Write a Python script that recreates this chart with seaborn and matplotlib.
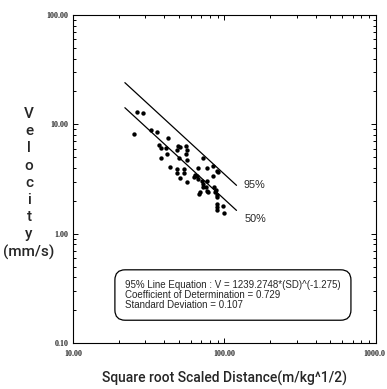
import numpy as np
import pandas as pd
import matplotlib
matplotlib.use("Agg")
import matplotlib.pyplot as plt
from matplotlib.transforms import ScaledTranslation
from matplotlib.ticker import FixedLocator, FixedFormatter, LogLocator, NullFormatter
import seaborn as sns

# Measured peak particle velocity against square-root scaled distance
sd = [26.6, 29.1, 25.3, 32.7, 35.7, 42.6, 37.1, 38.1, 41.9, 41.1, 37.9, 49.1,
      50.8, 48.4, 55.7, 56.3, 55.7, 50.3, 56.8, 43.7, 48.4, 48.4, 54.3, 54.3,
      50.8, 56.8, 63.2, 64.2, 65.5, 67.1, 67.1, 71.8, 76.3, 84.4, 89.6, 91.0,
      84.4, 70.7, 72.5, 76.3, 75.5, 76.3, 68.9, 68.2, 85.6, 87.9, 86.6, 88.8,
      89.6, 88.8, 88.8, 88.8, 98.2, 99.2, 71.8, 78.2]
v = [12.96, 12.8, 8.09, 8.81, 8.50, 7.49, 6.42, 6.11, 5.38, 6.02, 4.91, 6.28,
     6.19, 5.77, 6.28, 5.86, 5.38, 4.95, 4.75, 4.06, 3.87, 3.61, 3.87, 3.61,
     3.24, 2.95, 3.29, 3.46, 3.40, 3.18, 4.01, 4.95, 4.01, 4.12, 3.78, 3.65,
     3.40, 3.02, 2.86, 3.06, 2.66, 2.48, 2.39, 2.31, 2.66, 2.52, 2.39, 2.15,
     2.28, 1.87, 1.74, 1.65, 1.78, 1.55, 2.66, 2.39]

# Attenuation law V = K * SD^b
k95 = 1239.2748
k50 = 731.0
b = -1.275
r2 = 0.729
sdev = 0.107
line_sd = [22.0, 120.0]
line_labels = ["95%", "50%"]

x_ticks = [10, 100, 1000]
x_tick_labels = ["10.00", "100.00", "1000.0"]
y_ticks = [0.1, 1, 10, 100]
y_tick_labels = ["0.10", "1.00", "10.00", "100.00"]

sns.set_style("ticks")
plt.rcParams["font.family"] = ["Liberation Sans", "DejaVu Sans"]

points = pd.DataFrame({"sd": sd, "v": v})
lines = pd.DataFrame(
    [{"line": lab, "sd": s, "v": k * s ** b}
     for lab, k in zip(line_labels, [k95, k50]) for s in line_sd]
)

fig = plt.figure(figsize=(3.87, 3.89), dpi=100)
ax = fig.add_axes([0.1886, 0.1183, 0.783, 0.843])

sns.lineplot(data=lines, x="sd", y="v", units="line", estimator=None,
             color="black", linewidth=0.9, ax=ax, legend=False)
sns.scatterplot(data=points, x="sd", y="v", color="black", s=10,
                linewidth=0, ax=ax, legend=False)

ax.set_xscale("log")
ax.set_yscale("log")
ax.set_xlim(10, 1000)
ax.set_ylim(0.1, 100)

ax.xaxis.set_major_locator(FixedLocator(x_ticks))
ax.xaxis.set_major_formatter(FixedFormatter(x_tick_labels))
ax.yaxis.set_major_locator(FixedLocator(y_ticks))
ax.yaxis.set_major_formatter(FixedFormatter(y_tick_labels))
for axis in (ax.xaxis, ax.yaxis):
    axis.set_minor_locator(LogLocator(base=10, subs=np.arange(2, 10)))
    axis.set_minor_formatter(NullFormatter())

ax.tick_params(which="both", direction="in", top=True, right=True,
               color="black", width=0.7)
ax.tick_params(which="major", length=3.5)
ax.tick_params(which="minor", length=2)
ax.tick_params(axis="x", pad=5)
ax.tick_params(axis="y", pad=3)
for lab in ax.get_xticklabels() + ax.get_yticklabels():
    lab.set_fontfamily("Liberation Serif")
    lab.set_fontweight("bold")
    lab.set_fontsize(5.8)
# the last x label runs up to the right edge of the figure
last = ax.get_xticklabels()[-1]
last.set_horizontalalignment("right")
last.set_transform(last.get_transform() + ScaledTranslation(7 / 72, 0, fig.dpi_scale_trans))
for sp in ax.spines.values():
    sp.set_linewidth(0.8)
    sp.set_color("black")

label_font = dict(family=["Roboto", "Liberation Sans"], weight="medium")
ax.set_xlabel("Square root Scaled Distance(m/kg^1/2)", fontsize=10, labelpad=9,
              **label_font)
ax.set_ylabel("V\ne\nl\no\nc\ni\nt\ny", rotation=0, fontsize=11,
              linespacing=1.29, multialignment="center", ha="center", va="center",
              **label_font)
ax.yaxis.set_label_coords(-0.145, 0.515)
ax.text(-0.145, 0.277, "(mm/s)", transform=ax.transAxes, fontsize=11,
        ha="center", va="center", **label_font)

# Curve labels at the right end of each line
offsets = [(5, 0), (5.5, -6.5)]
for lab, k, off in zip(line_labels, [k95, k50], offsets):
    ax.annotate(lab, xy=(line_sd[-1], k * line_sd[-1] ** b), xytext=off,
                textcoords="offset points", fontsize=7.8, ha="left", va="center")

eq_text = (f"95% Line Equation : V = {k95:.4f}*(SD)^({b:.3f})\n"
           f"Coefficient of Determination = {r2:.3f}\n"
           f"Standard Deviation = {sdev:.3f}")
ax.text(0.172, 0.192, eq_text, transform=ax.transAxes, fontsize=7.0,
        ha="left", va="top", linespacing=1.0,
        bbox=dict(boxstyle="round,pad=1.05", fc="white", ec="black", lw=0.9))

fig.savefig("out.png", dpi=100)
